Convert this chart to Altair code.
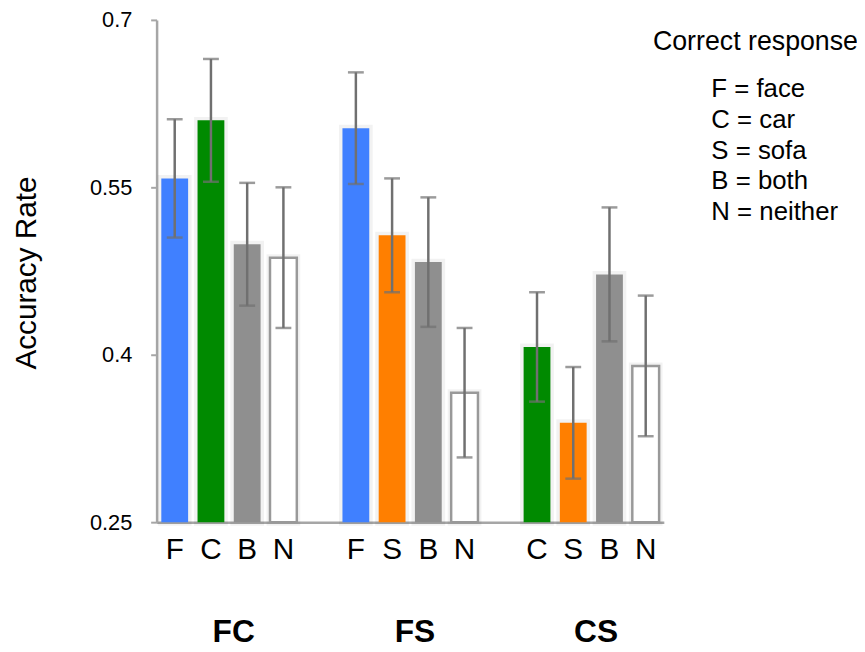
import altair as alt
import pandas as pd

# ---- data ----
groups = ["FC", "FC", "FC", "FC", "FS", "FS", "FS", "FS", "CS", "CS", "CS", "CS"]
responses = ["F", "C", "B", "N", "F", "S", "B", "N", "C", "S", "B", "N"]
means = [0.558, 0.610, 0.499, 0.487, 0.603, 0.507, 0.483, 0.366, 0.407, 0.339, 0.472, 0.390]
errors = [0.053, 0.055, 0.055, 0.063, 0.050, 0.051, 0.058, 0.058, 0.049, 0.050, 0.060, 0.063]
slot_order = ["FC|F", "FC|C", "FC|B", "FC|N", "gap1",
              "FS|F", "FS|S", "FS|B", "FS|N", "gap2",
              "CS|C", "CS|S", "CS|B", "CS|N"]
color_domain = ["F", "C", "S", "B", "N"]
color_range = ["#4080ff", "#008a00", "#ff7f00", "#8f8f8f", "#ffffff"]
group_names = ["FC", "FS", "CS"]
group_anchor = ["FC|C", "FS|S", "CS|S"]
legend_title = "Correct response"
legend_lines = ["F = face", "C = car", "S = sofa", "B = both", "N = neither"]
y_ticks = [0.25, 0.4, 0.55, 0.7]
y_domain = [0.25, 0.7]

df = pd.DataFrame({"group": groups, "response": responses, "mean": means, "err": errors})
df["slot"] = df["group"] + "|" + df["response"]
df["lo"] = df["mean"] - df["err"]
df["hi"] = df["mean"] + df["err"]
df["base"] = y_domain[0]

FONT = "Liberation Sans"
AXIS_GREY = "#a6a6a6"
ERR_GREY = "#707070"

x_scale = alt.Scale(domain=slot_order, paddingInner=0.26, paddingOuter=0.13)
x_axis = alt.Axis(
    labelExpr="indexof(datum.value, '|') > 0 ? split(datum.value, '|')[1] : ''",
    labelAngle=0, labelFontSize=30, labelColor="#000000", labelFont=FONT,
    labelPadding=13, ticks=False, domainColor=AXIS_GREY, domainWidth=2.5,
    title=None, grid=False,
)
y_scale = alt.Scale(domain=y_domain, zero=False, nice=False)
y_axis = alt.Axis(values=y_ticks, labelExpr="'' + datum.value", grid=False,
                  labelFontSize=22, labelFont=FONT, labelColor="#000000",
                  labelPadding=19, tickSize=6, tickWidth=2, tickColor=AXIS_GREY,
                  domainColor=AXIS_GREY, domainWidth=2.5,
                  title="Accuracy Rate", titleFontSize=30, titleFont=FONT,
                  titleFontWeight="normal", titleColor="#000000",
                  titleX=-131, titleY=255, titleAngle=-90,
                  titleAlign="center", titleBaseline="middle")

base = alt.Chart(df)

shadow = base.mark_bar(fillOpacity=0, stroke="#000000", strokeOpacity=0.05, strokeWidth=7).encode(
    x=alt.X("slot:N", scale=x_scale, axis=x_axis),
    y=alt.Y("mean:Q", scale=y_scale, axis=y_axis),
    y2="base:Q",
)

bars = base.mark_bar().encode(
    x=alt.X("slot:N", scale=x_scale, axis=x_axis),
    y=alt.Y("mean:Q", scale=y_scale, axis=y_axis),
    y2="base:Q",
    fill=alt.Fill("response:N", scale=alt.Scale(domain=color_domain, range=color_range), legend=None),
    stroke=alt.condition("datum.response == 'N'", alt.value("#999999"), alt.value("transparent")),
    strokeWidth=alt.condition("datum.response == 'N'", alt.value(2.5), alt.value(0)),
)

err_line = base.mark_rule(color=ERR_GREY, strokeWidth=2.5).encode(
    x=alt.X("slot:N", scale=x_scale, axis=x_axis),
    y=alt.Y("lo:Q", scale=y_scale, axis=y_axis),
    y2="hi:Q",
)
cap_lo = base.mark_tick(color=ERR_GREY, thickness=2.5, size=16).encode(
    x=alt.X("slot:N", scale=x_scale, axis=x_axis),
    y=alt.Y("lo:Q", scale=y_scale, axis=y_axis),
)
cap_hi = base.mark_tick(color=ERR_GREY, thickness=2.5, size=16).encode(
    x=alt.X("slot:N", scale=x_scale, axis=x_axis),
    y=alt.Y("hi:Q", scale=y_scale, axis=y_axis),
)

group_df = pd.DataFrame({"name": group_names, "slot": group_anchor})
group_text = alt.Chart(group_df).mark_text(
    font=FONT, fontSize=32, fontWeight="bold", dx=23, align="center", baseline="alphabetic", color="#000000"
).encode(
    x=alt.X("slot:N", scale=x_scale, axis=x_axis),
    y=alt.value(628),
    text="name:N",
)

legend_head = alt.Chart(pd.DataFrame({"t": [legend_title]})).mark_text(
    font=FONT, fontSize=27, align="left", baseline="alphabetic", color="#000000"
).encode(x=alt.value(501), y=alt.value(30), text="t:N")

legend_items = alt.Chart(pd.DataFrame({"t": ["\n".join(legend_lines)]})).mark_text(
    font=FONT, fontSize=26, align="left", baseline="alphabetic", color="#000000",
    lineBreak="\n", lineHeight=31,
).encode(x=alt.value(560), y=alt.value(78), text="t:N")

chart = alt.layer(shadow, bars, err_line, cap_lo, cap_hi, group_text, legend_head, legend_items).properties(
    width=512, height=507,
    autosize=alt.AutoSizeParams(type="none"),
    padding={"left": 150, "top": 9, "right": 195, "bottom": 124},
).configure(font=FONT).configure_view(stroke=None)

chart.save("out.html", embed_options={"renderer": "svg", "actions": False})
